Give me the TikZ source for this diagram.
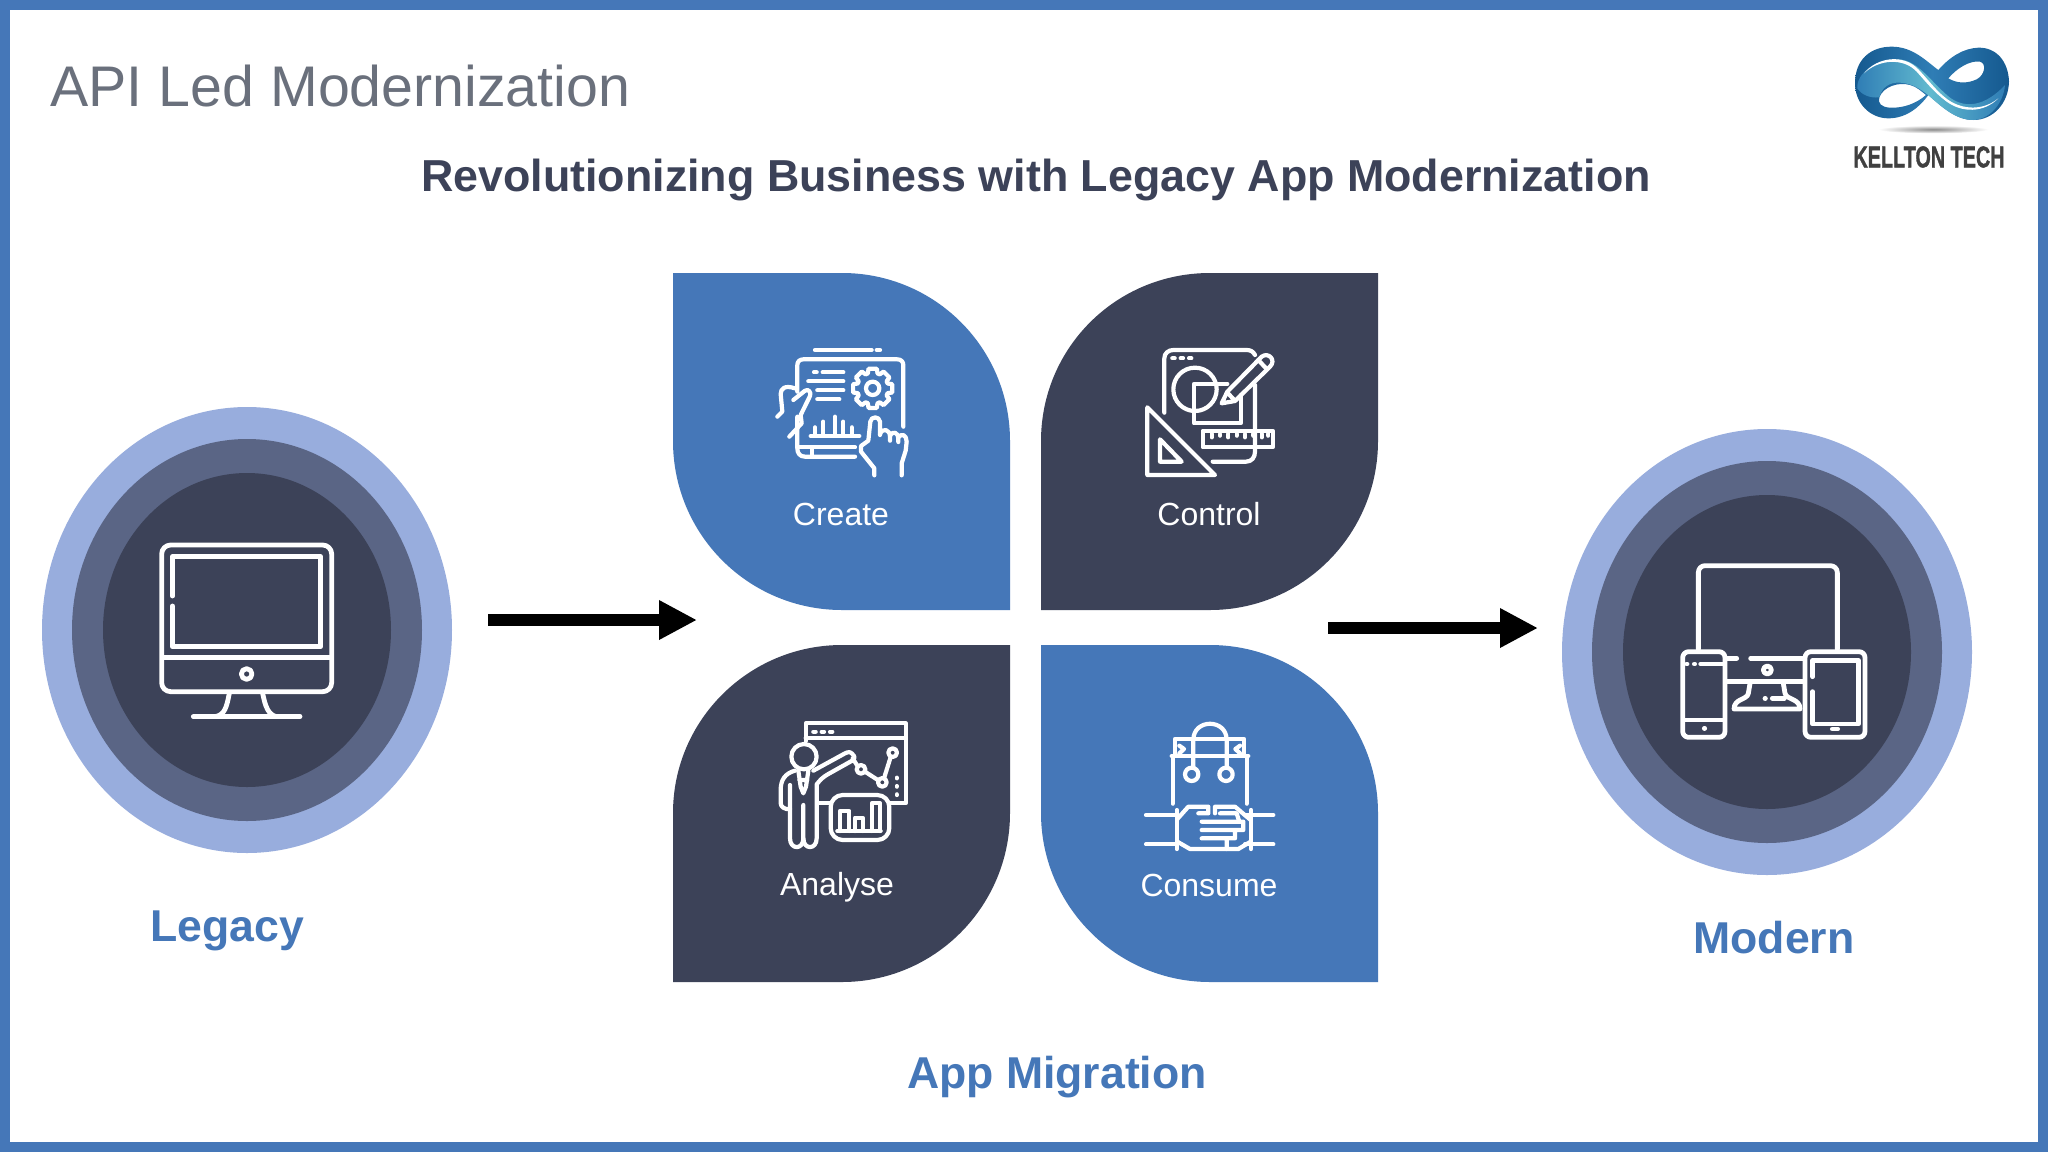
\documentclass[tikz,border=0pt]{standalone}
\usepackage{fontspec}
\setmainfont{Liberation Sans}
\usetikzlibrary{arrows.meta,shapes.geometric,shadings}
\definecolor{bandblue}{HTML}{4577B8}
\definecolor{inkdark}{HTML}{3C4258}
\definecolor{ringout}{HTML}{98ADDD}
\definecolor{ringmid}{HTML}{5A6585}
\definecolor{titlegrey}{HTML}{6A707C}
\definecolor{logodark}{HTML}{15598F}
\definecolor{logomid}{HTML}{2F7DB5}
\definecolor{logolight}{HTML}{62BACF}
\newcommand\fsz[1]{\fontsize{#1}{#1}\selectfont}
\tikzset{
  ringa/.style={ellipse,fill=ringout,minimum width=410pt,minimum height=446pt,inner sep=0pt},
  ringb/.style={ellipse,fill=ringmid,minimum width=350pt,minimum height=382pt,inner sep=0pt},
  ringc/.style={ellipse,fill=inkdark,minimum width=288pt,minimum height=314pt,inner sep=0pt},
  icon/.style={draw=white,line width=4.2pt,line cap=round,line join=round},
  iconb/.style={draw=white,line width=4.8pt,line cap=round,line join=round},
  petallabel/.style={text=white,font=\fsz{32}},
  headlabel/.style={text=bandblue,font=\fsz{44.6}\bfseries},
  bigarrow/.style={line width=12pt,-{Triangle[length=38pt,width=37pt]}},
  zoomed/.style={x=0.33333pt,y=-0.33333pt}
}
\begin{document}
\begin{tikzpicture}[x=1pt,y=-1pt]
\useasboundingbox (0,0) rectangle (2048,1152);
\fill[white] (0,0) rectangle (2048,1152);
\draw[bandblue,line width=10pt] (5,5) rectangle (2043,1147);

\node[anchor=west,text=titlegrey,font=\fsz{57.3}] (title) at (47,86) {API Led Modernization};
\node[text=inkdark,font=\fsz{44.8}\bfseries] (subtitle) at (1036,180) {Revolutionizing Business with Legacy App Modernization};

% logo
\begin{scope}[shift={(1820,20)},zoomed]
  \shade[inner color=black!45,outer color=white] (340,328) ellipse (165 and 12);
  \path[left color=logodark,right color=logodark,middle color=logomid,even odd rule]
    (105,190) .. controls (105,120) and (150,80) .. (215,80)
    .. controls (280,80) and (320,125) .. (355,150)
    .. controls (390,110) and (430,85) .. (475,83)
    .. controls (530,82) and (565,125) .. (567,185)
    .. controls (565,250) and (520,300) .. (460,300)
    .. controls (410,300) and (370,265) .. (325,225)
    .. controls (300,260) and (260,295) .. (205,295)
    .. controls (150,295) and (105,250) .. (105,190) -- cycle
    (178,232) .. controls (190,200) and (235,185) .. (270,195)
    .. controls (290,200) and (305,215) .. (318,225)
    .. controls (290,250) and (250,265) .. (210,263)
    .. controls (185,262) and (172,250) .. (178,232) -- cycle
    (385,175) .. controls (410,145) and (450,120) .. (480,125)
    .. controls (500,130) and (495,165) .. (470,178)
    .. controls (440,192) and (410,190) .. (385,175) -- cycle;
  \path[left color=logomid,right color=logomid,middle color=logolight]
    (112,205) .. controls (108,160) and (170,115) .. (235,118)
    .. controls (290,120) and (325,175) .. (375,220)
    .. controls (415,260) and (480,275) .. (555,195)
    .. controls (550,250) and (510,298) .. (460,300)
    .. controls (410,300) and (370,265) .. (330,230)
    .. controls (300,205) and (275,190) .. (240,188)
    .. controls (205,186) and (185,205) .. (178,232)
    .. controls (150,235) and (125,225) .. (112,205) -- cycle;
  \fill[white] (132,160) .. controls (170,112) and (250,100) .. (295,148)
    .. controls (330,185) and (350,215) .. (385,240)
    .. controls (430,270) and (490,272) .. (535,235)
    .. controls (490,280) and (425,278) .. (380,245)
    .. controls (340,215) and (320,188) .. (290,155)
    .. controls (250,112) and (175,118) .. (132,160) -- cycle;
\end{scope}
\node[text=black!75,font=\fsz{30}\bfseries\addfontfeature{FakeBold=1.5},xscale=0.66,transform shape] (brand) at (1929,157) {KELLTON TECH};

% rings
\node[ringa] (legacyA) at (247,630) {};
\node[ringb] (legacyB) at (247,630) {};
\node[ringc] (legacyC) at (247,630) {};
\node[ringa] (modernA) at (1767,652) {};
\node[ringb] (modernB) at (1767,652) {};
\node[ringc] (modernC) at (1767,652) {};
\node[headlabel] (legacy) at (227,931) {Legacy};
\node[headlabel] (modern) at (1774,938) {Modern};
\node[headlabel] (migration) at (1057,1077) {App Migration};

% petals
\fill[bandblue] (673,273) -- (842,273) .. controls (935,273) and (1010,348) .. (1010,441) -- (1010,610) -- (842,610) .. controls (749,610) and (673,535) .. (673,441) -- cycle;
\fill[inkdark] (1378,273) -- (1378,441) .. controls (1378,534) and (1303,610) .. (1210,610) -- (1041,610) -- (1041,441) .. controls (1041,348) and (1116,273) .. (1210,273) -- cycle;
\fill[inkdark] (1010,645) -- (1010,813) .. controls (1010,906) and (935,982) .. (842,982) -- (673,982) -- (673,813) .. controls (673,720) and (749,645) .. (842,645) -- cycle;
\fill[bandblue] (1041,645) -- (1210,645) .. controls (1303,645) and (1378,720) .. (1378,813) -- (1378,982) -- (1210,982) .. controls (1117,982) and (1041,906) .. (1041,813) -- cycle;
\node[petallabel] (create) at (841,514) {Create};
\node[petallabel] (control) at (1209,514) {Control};
\node[petallabel] (analyse) at (837,887) {Analyse};
\node[petallabel] (consume) at (1209,885) {Consume};

% arrows
\coordinate (flowAstart) at (488,620);
\coordinate (flowAend) at (697,620);
\coordinate (flowBstart) at (1328,628);
\coordinate (flowBend) at (1538,628);
\draw[bigarrow] (flowAstart) -- (flowAend);
\draw[bigarrow] (flowBstart) -- (flowBend);

% Create icon
\begin{scope}[shift={(740,320)},zoomed]
  \draw[icon] (225,90) -- (395,90) (410,90) -- (420,90);
  \draw[icon] (172,215) -- (172,135) .. controls (172,124) and (180,118) .. (190,118) -- (472,118) .. controls (483,118) and (490,125) .. (490,135) -- (490,320);
  \draw[icon] (172,290) -- (172,385) .. controls (172,400) and (180,410) .. (195,410) -- (345,410);
  \draw[icon] (172,382) -- (345,382) (215,385) -- (215,408);
  \draw[icon] (222,157) -- (230,157) (248,157) -- (310,157) (205,184) -- (310,184) (232,211) -- (310,211) (232,238) -- (298,238);
  \begin{scope}[shift={(398,205)}]
    \draw[icon] (-12:60) \foreach \a in {0,45,...,315} { -- (\a-12:60) -- (\a+12:60) -- (\a+18:47) -- (\a+27:47) } -- cycle;
    \draw[icon] (0,0) circle (20);
  \end{scope}
  \draw[icon] (112,290) -- (127,275) -- (122,222) .. controls (122,205) and (135,195) .. (165,205);
  \draw[icon] (160,240) -- (195,212) .. controls (205,205) and (215,218) .. (210,228) -- (182,285) -- (185,310) -- (148,350);
  \draw[icon] (212,348) -- (358,348) (225,345) -- (225,322) (250,345) -- (250,305) (285,345) -- (285,290) (310,345) -- (310,305) (335,345) -- (335,322);
  \draw[icon] (403,466) -- (403,445) -- (363,395) -- (363,378) -- (385,362) -- (391,305) .. controls (393,288) and (418,288) .. (420,305) -- (420,345);
  \draw[icon] (420,342) .. controls (428,322) and (450,328) .. (450,350) -- (450,362);
  \draw[icon] (450,348) .. controls (458,330) and (475,338) .. (475,355) -- (475,366);
  \draw[icon] (475,352) .. controls (485,338) and (500,345) .. (500,365) -- (497,392) -- (485,430) -- (485,466);
\end{scope}

% Control icon
\begin{scope}[shift={(1120,320)},zoomed]
  \draw[icon] (133,278) -- (133,115) .. controls (133,100) and (145,90) .. (160,90) -- (380,90) .. controls (392,90) and (400,95) .. (405,105);
  \draw[icon] (405,195) -- (405,395) .. controls (405,412) and (395,425) .. (378,425) -- (278,425);
  \draw[icon] (157,115) -- (164,115) (182,115) -- (189,115) (207,115) -- (214,115);
  \draw[icon] (225,208) circle (65);
  \draw[icon] (322,192) -- (222,192) -- (222,310) -- (362,310) -- (362,225);
  \draw[icon] (305,250) -- (322,215) -- (425,110) .. controls (445,95) and (470,120) .. (450,140) -- (345,243) -- cycle;
  \draw[icon] (415,120) -- (440,147) (322,218) -- (343,240);
  \draw[icon] (248,332) rectangle (458,382);
  \draw[icon] (275,342) -- (275,352) (300,342) -- (300,347) (325,342) -- (325,352) (350,342) -- (350,347) (375,342) -- (375,352) (400,342) -- (400,347) (425,342) -- (425,352) (445,342) -- (445,347);
  \draw[icon] (82,262) -- (82,465) -- (285,465) -- cycle;
  \draw[icon] (120,358) -- (120,425) -- (185,425) -- cycle;
\end{scope}

% Analyse icon
\begin{scope}[shift={(760,705)},zoomed]
  \draw[icon] (137,108) -- (137,55) -- (437,55) -- (437,295) -- (388,295);
  \draw[icon] (137,100) -- (437,100) (175,295) -- (212,295);
  \draw[icon] (160,80) -- (167,80) (185,80) -- (192,80) (210,80) -- (217,80);
  \draw[icon] (410,218) -- (410,220) (410,243) -- (410,245) (410,268) -- (410,270);
  \draw[icon] (132,155) circle (38);
  \draw[icon] (105,197) .. controls (75,205) and (62,225) .. (62,255) -- (62,295) .. controls (62,305) and (75,315) .. (90,312);
  \draw[icon] (90,240) -- (90,400) .. controls (90,435) and (130,435) .. (130,400) -- (130,300);
  \draw[icon] (130,400) .. controls (130,435) and (170,435) .. (170,400) -- (170,238) .. controls (180,225) and (190,215) .. (205,207) -- (280,165) .. controls (285,160) and (285,155) .. (278,148) .. controls (272,140) and (265,140) .. (255,145) -- (160,197);
  \draw[icon] (115,197) -- (122,245) -- (130,265) -- (138,245) -- (145,197) (118,225) -- (142,225);
  \draw[icon] (278,160) -- (292,182);
  \draw[icon] (303,193) circle (13) (367,232) circle (13) (398,143) circle (13);
  \draw[icon] (315,200) -- (355,226) (372,220) -- (392,156);
  \draw[icon,rounded corners=12pt] (212,270) rectangle (388,405);
  \draw[icon] (232,378) -- (362,378) (240,378) -- (240,318) -- (268,318) -- (268,378) (285,378) -- (285,338) -- (308,338) -- (308,378) (335,378) -- (335,295) -- (360,295) -- (360,378);
\end{scope}

% Consume icon
\begin{scope}[shift={(1120,705)},zoomed]
  \draw[icon] (220,185) -- (220,105) .. controls (220,40) and (320,40) .. (320,105) -- (320,185);
  \draw[icon] (215,208) circle (20) (318,208) circle (20);
  \draw[icon] (165,150) -- (165,102) -- (372,102) -- (372,150);
  \draw[icon] (155,153) -- (385,153) (158,153) -- (158,296) (380,153) -- (380,296);
  \draw[icon] (178,122) -- (192,132) -- (178,145) (360,122) -- (346,132) -- (360,145);
  \draw[icon] (78,330) -- (170,330) (78,418) -- (170,418) (375,330) -- (460,330) (375,418) -- (460,418);
  \draw[icon] (170,315) -- (170,432) (393,315) -- (393,432);
  \draw[icon] (172,342) -- (205,305) -- (265,305) -- (265,325) -- (235,325);
  \draw[icon] (285,325) -- (285,305) -- (345,305) -- (392,345);
  \draw[icon] (172,410) -- (210,432) -- (355,432) -- (392,410);
  \draw[icon] (245,350) -- (370,350) -- (370,375) -- (245,375) (245,400) -- (345,400) -- (345,375) (320,400) -- (320,432) (300,325) -- (350,325) -- (358,350);
\end{scope}

% Legacy monitor icon
\begin{scope}[shift={(140,520)},zoomed]
  \draw[iconb,rounded corners=9pt] (65,75) rectangle (575,515);
  \draw[iconb] (70,412) -- (570,412);
  \draw[iconb] (97,228) -- (97,110) -- (542,110) -- (542,380) -- (97,380) -- (97,258);
  \draw[iconb] (320,462) circle (16);
  \draw[iconb] (268,520) .. controls (260,560) and (255,585) .. (225,590) (368,520) .. controls (376,560) and (385,585) .. (410,590);
  \draw[iconb] (160,590) -- (480,590);
\end{scope}

% Modern devices icon
\begin{scope}[shift={(1660,550)},zoomed]
  \draw[iconb] (115,298) -- (115,68) .. controls (115,55) and (125,47) .. (135,47) -- (510,47) .. controls (522,47) and (532,55) .. (532,68) -- (532,298);
  \draw[iconb] (200,325) -- (230,325) (272,325) -- (430,325) (200,395) -- (430,395);
  \draw[iconb] (322,360) circle (12);
  \draw[iconb] (270,400) -- (265,430) .. controls (262,450) and (222,445) .. (222,477) -- (420,477) .. controls (420,445) and (380,450) .. (375,430) -- (370,400);
  \draw[iconb] (315,445) -- (316,445) (337,445) -- (373,445);
  \draw[iconb,rounded corners=6pt] (68,305) rectangle (195,562);
  \draw[iconb] (80,342) -- (81,342) (103,342) -- (104,342) (122,342) -- (190,342) (72,510) -- (190,510) (133,535) -- (134,535);
  \draw[iconb,rounded corners=6pt] (435,305) rectangle (615,562);
  \draw[iconb] (458,380) -- (458,332) -- (595,332) -- (595,522) -- (458,522) -- (458,425);
  \draw[iconb] (517,537) -- (533,537);
\end{scope}
\end{tikzpicture}
\end{document}
